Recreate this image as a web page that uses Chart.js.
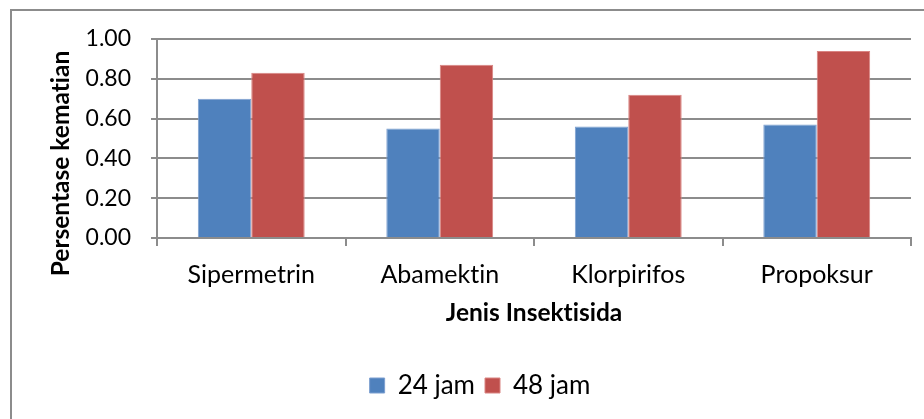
<!DOCTYPE html>
<html>
<head>
<meta charset="utf-8">
<script src="https://cdn.jsdelivr.net/npm/chart.js@4.4.1/dist/chart.umd.min.js"></script>
<style>
  html, body { margin: 0; padding: 0; overflow: hidden; background: #fff; }
  #frame { position: absolute; left: 10px; top: 9px; width: 1000px; height: 500px;
           border: 2px solid #8c8c8c; box-sizing: border-box; }
  #wrap { position: absolute; left: 0; top: 0; width: 924px; height: 419px; }
</style>
</head>
<body>
<div id="frame"></div>
<div id="wrap"><canvas id="chart"></canvas></div>
<script>
// Insecticide types and mortality fractions after 24 h and 48 h
const categories = ['Sipermetrin', 'Abamektin', 'Klorpirifos', 'Propoksur'];
const mortality24 = [0.70, 0.55, 0.56, 0.57];
const mortality48 = [0.83, 0.87, 0.72, 0.94];
const seriesNames = ['24 jam', '48 jam'];
const yTicks = [0, 0.2, 0.4, 0.6, 0.8, 1.0];
const yTitle = 'Persentase kematian';
const xTitle = 'Jenis Insektisida';

const FONT = 'Lato, "Open Sans", sans-serif';
const GRID = '#8c8c8c';

// Plain glyphs (no "ti"/"fi" ligatures) for all canvas text
const plainTextPlugin = {
  id: 'plainText',
  beforeDraw(chart) { chart.ctx.textRendering = 'optimizeSpeed'; }
};

// Rotated y-axis title, placed a little below the axis midpoint
const yTitlePlugin = {
  id: 'yTitle',
  afterDraw(chart) {
    const ctx = chart.ctx;
    const y = chart.scales.y;
    ctx.save();
    ctx.translate(61, (y.top + y.bottom) / 2 + 25);
    ctx.rotate(-Math.PI / 2);
    ctx.font = 'bold 24.5px ' + FONT;
    ctx.fillStyle = '#000';
    ctx.textAlign = 'center';
    ctx.textBaseline = 'middle';
    ctx.fillText(yTitle, 0, 0);
    ctx.restore();
  }
};

new Chart(document.getElementById('chart'), {
  type: 'bar',
  data: {
    labels: categories,
    datasets: [
      { label: seriesNames[0], data: mortality24, backgroundColor: '#4F81BD',
        borderColor: '#7d9fd0', borderWidth: 1 },
      { label: seriesNames[1], data: mortality48, backgroundColor: '#C0504D',
        borderColor: '#d98482', borderWidth: 1 }
    ]
  },
  options: {
    responsive: true,
    maintainAspectRatio: false,
    animation: false,
    layout: { padding: { left: 49, right: 13, top: 39, bottom: 10.5 } },
    datasets: { bar: { categoryPercentage: 0.567, barPercentage: 1.0 } },
    plugins: {
      legend: {
        position: 'bottom',
        labels: {
          font: { family: FONT, size: 26 }, color: '#000',
          boxWidth: 15, boxHeight: 15, padding: 10
        }
      },
      tooltip: { enabled: false }
    },
    scales: {
      x: {
        grid: { drawOnChartArea: false, offset: true, color: GRID, lineWidth: 2, tickLength: 8 },
        border: { color: GRID, width: 2 },
        ticks: { font: { family: FONT, size: 25 }, color: '#000', padding: 14, maxRotation: 0 },
        title: { display: true, text: xTitle, color: '#000',
                 font: { family: FONT, size: 24.5, weight: 'bold' },
                 padding: { top: 4, bottom: 35 } },
        afterFit(scale) { scale.height = 124.5; }
      },
      y: {
        min: 0, max: 1,
        afterBuildTicks(scale) { scale.ticks = yTicks.map(v => ({ value: v })); },
        grid: { color: GRID, lineWidth: 2, tickLength: 6 },
        border: { color: GRID, width: 2 },
        ticks: { font: { family: FONT, size: 23 }, color: '#000', padding: 20,
                 callback: v => Number(v).toFixed(2) },
        afterFit(scale) { scale.width = 108; }
      }
    }
  },
  plugins: [plainTextPlugin, yTitlePlugin]
});
</script>
</body>
</html>
